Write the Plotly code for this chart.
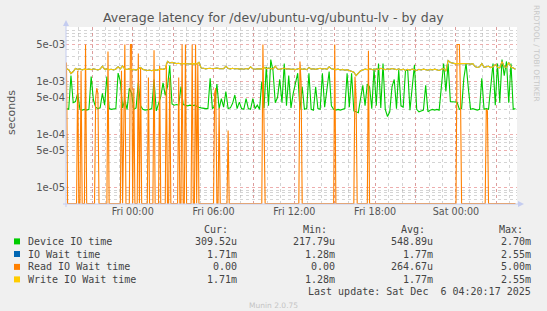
import plotly.graph_objects as go
from datetime import datetime, timedelta

# ---------------- data (milliseconds) ----------------
START = datetime(2025, 12, 4, 19, 5)
STEP_MIN = 10          # device / wait series: 10-minute samples
READ_STEP_MIN = 5      # read wait series: 5-minute samples

device_io_ms = [
    0.31, 0.30, 1.30, 0.40, 0.42, 0.60, 0.30, 0.29, 0.30, 0.29,
    0.30, 1.25, 0.45, 0.33, 0.31, 0.32, 0.60, 0.36, 1.25, 0.31,
    0.30, 0.30, 0.31, 1.45, 1.00, 0.32, 0.45, 0.30, 0.75, 0.60,
    0.30, 0.32, 0.95, 0.35, 0.30, 0.29, 0.30, 0.30, 0.31, 1.10,
    0.28, 0.40, 0.52, 0.95, 0.55, 0.80, 2.00, 0.38, 0.36, 0.37,
    0.36, 0.80, 0.37, 0.36, 0.35, 0.36, 0.35, 0.36, 0.34, 0.33,
    0.32, 0.31, 0.31, 0.31, 1.16, 0.31, 0.34, 0.90, 0.31, 0.48,
    0.33, 0.65, 0.31, 0.32, 0.39, 0.56, 0.31, 0.41, 0.31, 0.30,
    0.48, 0.31, 0.30, 0.48, 0.31, 0.36, 0.30, 1.00, 0.32, 1.90,
    0.35, 2.60, 1.60, 0.40, 0.50, 1.10, 0.40, 2.20, 0.35, 1.30,
    0.32, 0.60, 1.00, 1.44, 0.30, 0.80, 0.30, 0.31, 1.44, 0.30,
    0.29, 0.80, 0.31, 0.30, 1.44, 0.33, 0.70, 1.55, 0.35, 0.30,
    0.29, 0.30, 0.29, 0.30, 0.31, 1.44, 0.33, 1.44, 0.28, 0.27,
    0.26, 0.48, 0.85, 0.35, 0.90, 0.80, 0.31, 1.79, 0.35, 2.20,
    0.32, 2.20, 0.30, 0.22, 0.27, 0.80, 1.10, 0.31, 1.66, 0.35,
    0.33, 1.60, 1.66, 0.29, 0.80, 2.07, 0.30, 0.27, 0.28, 0.29,
    0.85, 0.27, 0.29, 0.30, 0.29, 0.30, 0.29, 0.70, 2.20, 0.65,
    2.20, 0.42, 0.42, 0.42, 0.41, 0.30, 0.31, 1.16, 2.20, 0.75,
    0.30, 0.31, 0.30, 0.29, 0.30, 1.16, 0.30, 0.31, 0.30, 0.80,
    2.20, 0.36, 2.20, 0.40, 2.60, 1.30, 2.40, 0.40, 2.20, 0.30,
    0.31,
]

write_wait_ms = [
    1.75, 1.68, 1.42, 1.55, 1.78, 1.70, 1.74, 1.66, 1.72, 1.69,
    1.73, 1.68, 1.75, 1.70, 1.66, 1.72, 1.95, 1.70, 1.74, 1.68,
    1.71, 1.66, 1.73, 1.90, 1.74, 1.98, 1.72, 1.69, 1.75, 1.66,
    1.70, 1.64, 1.73, 1.85, 1.70, 1.66, 1.62, 1.65, 1.60, 1.66,
    1.63, 1.68, 1.72, 1.70, 1.76, 2.40, 2.25, 2.30, 2.20, 2.18,
    2.22, 2.15, 2.20, 2.17, 2.19, 2.15, 2.18, 2.20, 2.16, 2.30,
    1.80, 1.78, 1.74, 1.76, 1.79, 1.75, 1.77, 1.80, 1.76, 1.78,
    1.75, 1.95, 1.77, 1.74, 1.78, 1.73, 1.76, 1.72, 1.75, 1.71,
    1.76, 1.72, 1.90, 1.74, 1.71, 1.75, 1.72, 1.74, 1.85, 1.76,
    1.80, 1.74, 1.72, 1.95, 1.73, 1.70, 1.74, 1.80, 1.72, 1.75,
    1.70, 1.73, 1.68, 1.75, 1.78, 1.70, 1.74, 1.68, 1.85, 1.72,
    1.75, 1.70, 1.74, 1.78, 1.72, 1.76, 1.70, 1.90, 1.74, 1.71,
    1.68, 1.72, 1.66, 1.70, 1.64, 1.68, 1.60, 1.55, 1.50, 1.30,
    1.48, 1.60, 1.66, 1.72, 1.68, 1.75, 1.70, 1.66, 1.74, 1.70,
    1.78, 1.72, 1.68, 1.74, 1.70, 1.76, 1.71, 1.68, 1.74, 1.66,
    1.72, 1.62, 1.70, 1.65, 1.72, 1.68, 1.62, 1.70, 1.66, 1.72,
    1.68, 1.64, 1.70, 1.66, 1.72, 1.68, 1.62, 1.70, 1.76, 1.58,
    2.50, 2.30, 2.20, 2.18, 2.20, 2.16, 2.18, 2.20, 2.15, 2.17,
    2.14, 2.18, 1.92, 1.85, 1.90, 2.20, 1.86, 1.88, 1.95, 1.84,
    1.90, 2.10, 1.86, 1.82, 2.40, 1.90, 1.85, 2.30, 1.88, 1.80,
    1.71,
]

# IO wait time is identical to the write wait time in this period
io_wait_ms = list(write_wait_ms)

read_wait_ms = [
    2.3, 0, 0, 0, 0, 0, 0, 0, 0, 0, 1.6, 0, 0, 1.6, 0, 0, 0, 5.0, 0, 0,
    0, 0, 0, 0, 0, 0, 0.5, 0.75, 0.6, 0, 0, 0, 0, 0, 0, 0, 0, 3.7, 0, 0,
    0, 0, 0, 0, 0, 0, 0, 0, 0, 1.6, 0, 0.11, 5.0, 0, 0, 0, 0, 5.0, 5.0, 0,
    0.75, 0, 0, 0, 3.4, 0, 1.8, 0, 0, 0, 0, 0, 0, 1.2, 0, 0, 0, 0, 3.9, 0,
    0, 0, 0, 2.0, 0, 0, 0, 0, 0, 2.2, 0, 0, 1.2, 0, 0, 0, 0, 0, 0, 0,
    1.2, 0, 0, 5.0, 0, 0, 5.0, 0, 0, 0, 0, 0, 5.0, 0, 0, 5.0, 0, 2.2, 0, 0,
    0, 0, 0, 0, 0, 0, 0, 0, 0, 0, 0, 0, 0.6, 0.75, 0, 0, 0.32, 0, 0, 0,
    0, 0, 0, 0, 0.12, 0, 0, 0, 0, 0, 0, 0, 0, 0, 0, 0, 0, 0, 0, 0,
    0, 0, 0, 0, 0, 0, 0, 0, 0, 0, 0, 0, 0, 0, 0, 5.0, 0.08, 0, 0, 0,
    0, 0, 0, 0, 0, 0, 0, 0, 0, 0, 0, 0, 0, 0, 0, 0, 0, 0, 0, 0,
    0, 0, 0, 0, 0, 0, 0, 0, 2.4, 1.0, 0, 0, 0, 0, 0, 0, 0, 0, 0, 0,
    0, 0, 0, 0, 0, 0, 0, 0, 0, 0, 0, 0, 0, 0, 0, 0, 0, 0, 0, 5.0,
    0, 0, 0, 0, 0, 0, 0, 0, 0, 0, 0, 0, 0, 0, 0, 0, 0, 1.24, 0.5, 0,
    0, 0, 0, 0, 0, 0, 0, 0, 0, 3.8, 0, 0, 0, 0, 0, 0, 0, 0, 0, 0,
    0, 0, 0, 0, 0, 0, 0, 0, 0, 0, 0, 0, 0, 0, 0, 0, 0, 0, 0, 0,
    0, 0, 0, 0, 0, 0, 0, 0, 0, 0, 0, 0, 0, 0, 0, 0, 0, 0, 0, 0,
    0, 0, 0, 0, 0, 0, 0, 0, 0, 0, 0, 0, 0, 0, 0, 0, 0, 0, 0, 0,
    0, 0, 0, 0, 0, 0, 0, 0, 5.0, 5.0, 5.0, 0.6, 0, 0, 0, 0, 0, 0, 0, 0,
    0, 0, 0, 0, 0, 0, 0, 0, 0, 0, 0, 0, 0, 0, 0.30, 0.28, 0, 0, 0, 0,
    0, 0, 0, 0, 0, 0, 0, 0, 0, 0, 0, 0, 0, 0, 0, 0, 0, 0, 0, 0,
    0,
]

series_names = ["Device IO time", "IO Wait time", "Read IO Wait time", "Write IO Wait time"]
series_colors = ["#00CC00", "#0066B3", "#FF8000", "#FFCC00"]
legend_cur = ["309.52u", "1.71m", "0.00", "1.71m"]
legend_min = ["217.79u", "1.28m", "0.00", "1.28m"]
legend_avg = ["548.89u", "1.77m", "264.67u", "1.77m"]
legend_max = ["2.70m", "2.55m", "5.00m", "2.55m"]

y_tickvals = [1e-5, 5e-5, 1e-4, 5e-4, 1e-3, 5e-3]
y_ticktext = ["1e-05", "5e-05", "1e-04", "5e-04", "1e-03", "5e-03"]

# ---------------- geometry ----------------
W, H = 547, 311
PL, PR, PT, PB = 66, 517, 27, 204
Y_LOG = [-5.306, -1.971]
X_RANGE = [datetime(2025, 12, 4, 19, 2, 54), datetime(2025, 12, 6, 4, 31, 48)]
FLOOR = 10 ** (Y_LOG[0] + 0.008)   # rrdtool draws zero at the bottom of a log graph


def fx(px):
    return (px - PL) / (PR - PL)


def fy(py):
    return (PB - py) / (PB - PT)


times = [START + timedelta(minutes=STEP_MIN * i) for i in range(len(device_io_ms))]
read_times = [START + timedelta(minutes=READ_STEP_MIN * i) for i in range(len(read_wait_ms))]


def to_sec(vals):
    return [v * 1e-3 if v > 0 else FLOOR for v in vals]


fig = go.Figure()
for name, xs, vals, col in [
    (series_names[0], times, device_io_ms, series_colors[0]),
    (series_names[1], times, io_wait_ms, series_colors[1]),
    (series_names[2], read_times, read_wait_ms, series_colors[2]),
    (series_names[3], times, write_wait_ms, series_colors[3]),
]:
    fig.add_trace(go.Scatter(x=xs, y=to_sec(vals), mode="lines", name=name,
                             line=dict(color=col, width=1.1), showlegend=False,
                             hoverinfo="skip"))

# x ticks every 3 h (red major grid), labels every 6 h
x_tickvals, x_ticktext = [], []
t = datetime(2025, 12, 4, 21, 0)
while t <= X_RANGE[1]:
    x_tickvals.append(t)
    x_ticktext.append(t.strftime("%a %H:%M") if t.hour % 6 == 0 else "")
    t += timedelta(hours=3)

y_minor = [k * 10.0 ** e for e in range(-6, -1) for k in (2, 3, 4, 6, 7, 8, 9)]

MAJOR = "rgba(225,120,120,0.6)"
MINOR = "rgba(170,170,170,0.5)"

fig.update_layout(
    width=W, height=H,
    margin=dict(l=PL, r=W - PR, t=PT, b=H - PB, pad=0),
    paper_bgcolor="#F0F0F0", plot_bgcolor="#FFFFFF",
    font=dict(family="DejaVu Sans", color="#555555", size=10),
    xaxis=dict(type="date", range=X_RANGE, tickvals=x_tickvals, ticktext=x_ticktext,
               showgrid=True, gridcolor=MAJOR, griddash="dot", gridwidth=1,
               ticks="", showline=False, zeroline=False,
               tickfont=dict(family="DejaVu Sans", size=9.6, color="#555555"),
               minor=dict(dtick=3600000, tick0="2025-12-04 19:00", showgrid=True,
                          gridcolor=MINOR, griddash="dot", gridwidth=1)),
    yaxis=dict(type="log", range=Y_LOG, tickvals=y_tickvals, ticktext=y_ticktext,
               showgrid=True, gridcolor=MAJOR, griddash="dot", gridwidth=1,
               ticks="", showline=False, zeroline=False,
               tickfont=dict(family="DejaVu Sans", size=10, color="#555555"),
               minor=dict(tickvals=y_minor, showgrid=True, gridcolor=MINOR,
                          griddash="dot", gridwidth=1)),
)

AX = "#C4CCF0"
shapes = [
    dict(type="line", xref="paper", yref="paper", x0=fx(PL), x1=fx(PL), y0=fy(PB + 3), y1=fy(24),
         line=dict(color=AX, width=1)),
    dict(type="line", xref="paper", yref="paper", x0=fx(PL - 3), x1=fx(520), y0=fy(PB), y1=fy(PB),
         line=dict(color=AX, width=1)),
    dict(type="path", xref="paper", yref="paper",
         path=f"M {fx(PL-3)},{fy(26)} L {fx(PL+3)},{fy(26)} L {fx(PL)},{fy(20)} Z",
         fillcolor=AX, line=dict(color=AX, width=0)),
    dict(type="path", xref="paper", yref="paper",
         path=f"M {fx(518)},{fy(PB-3)} L {fx(518)},{fy(PB+3)} L {fx(524)},{fy(PB)} Z",
         fillcolor=AX, line=dict(color=AX, width=0)),
]

annotations = []


def text(px, py, s, size=10, family="DejaVu Sans Mono", color="#444444",
         xanchor="left", angle=0):
    annotations.append(dict(xref="paper", yref="paper", x=fx(px), y=fy(py), text=s,
                            showarrow=False, xanchor=xanchor, yanchor="middle",
                            textangle=angle,
                            font=dict(family=family, size=size, color=color)))


text(273.5, 18, "Average latency for /dev/ubuntu-vg/ubuntu-lv - by day", size=12.5,
     family="DejaVu Sans", color="#555555", xanchor="center")
text(11, 113, "seconds", size=11, family="DejaVu Sans", color="#555555",
     xanchor="center", angle=-90)
text(537, 53, "RRDTOOL / TOBI OETIKER", size=7.5, family="DejaVu Sans",
     color="#C8C8C8", xanchor="center", angle=90)

text(202, 229.2, "Cur:")
text(301, 229.2, "Min:")
text(399, 229.2, "Avg:")
text(497, 229.2, "Max:")
row_y = [241.4, 254.0, 266.9, 279.4]
for k in range(4):
    y = row_y[k]
    shapes.append(dict(type="rect", xref="paper", yref="paper",
                       x0=fx(14), x1=fx(20), y0=fy(y + 3), y1=fy(y - 3),
                       fillcolor=series_colors[k], line=dict(width=0)))
    text(26, y, series_names[k])
    text(238.5, y, legend_cur[k], xanchor="right")
    text(336.5, y, legend_min[k], xanchor="right")
    text(434.5, y, legend_avg[k], xanchor="right")
    text(533, y, legend_max[k], xanchor="right")

text(533, 291.7, "Last update: Sat Dec \u00a06 04:20:17 2025", xanchor="right")
text(273, 305, "Munin 2.0.75", size=7.5, family="DejaVu Sans", color="#C4C4C4",
     xanchor="center")

fig.update_layout(shapes=shapes, annotations=annotations)
fig.write_html("out.html")
